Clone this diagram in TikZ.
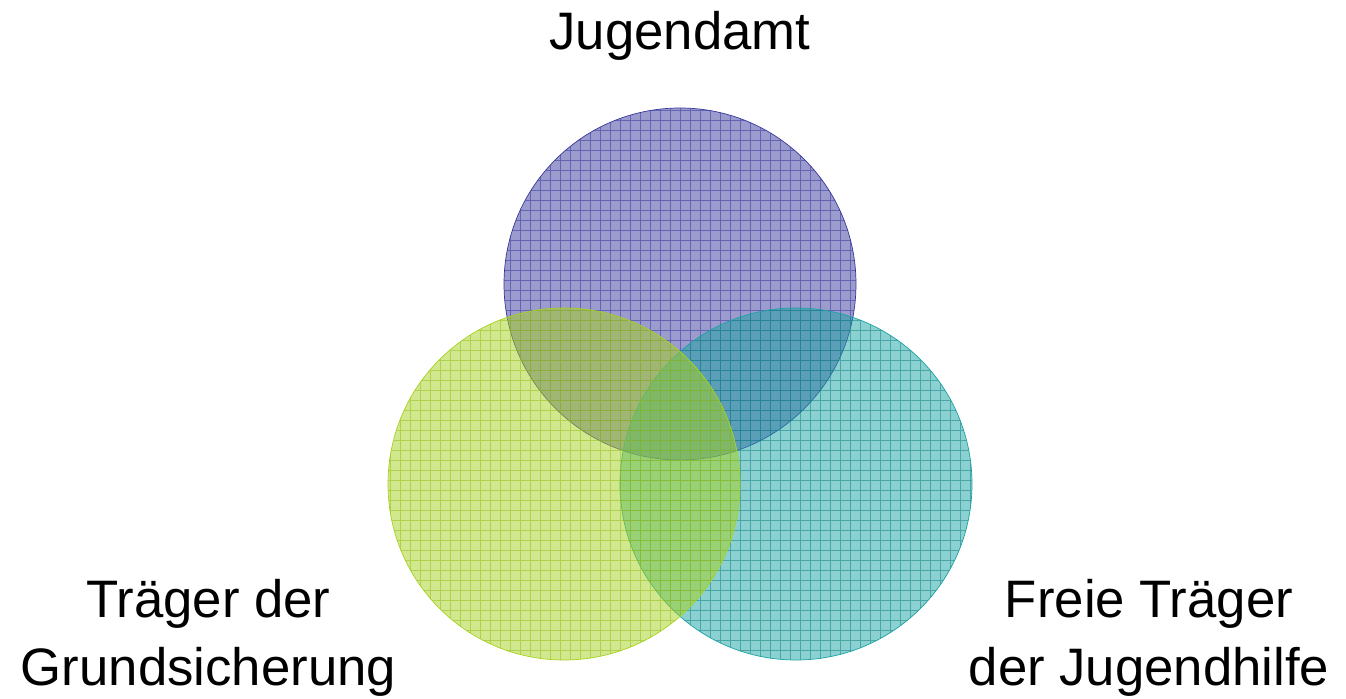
\documentclass[tikz,border=0pt]{standalone}
\usepackage{fontspec}
\setmainfont{Liberation Sans}
\usetikzlibrary{positioning}

\definecolor{amtblue}{HTML}{38389C}
\definecolor{freiteal}{HTML}{1AA3A3}
\definecolor{grundgreen}{HTML}{A6D21E}

\tikzset{
  label/.style={align=center, font=\fontsize{30}{38.5}\selectfont},
  disk/.style={fill opacity=0.5, draw opacity=1, line width=0.5pt},
  gridline/.style={line width=0.5pt, opacity=0.55}
}

\begin{document}
\begin{tikzpicture}[]
\useasboundingbox (0, 0) rectangle (26.92, -13.98);

% Jugendamt
\fill[amtblue, disk] (13.6, -5.68) circle (3.52);
\begin{scope}
\clip (13.6, -5.68) circle (3.52);
\draw[amtblue, gridline, step=0.2] (10, -10) grid (17.2, -2);
\end{scope}
\draw[amtblue] (13.6, -5.68) circle (3.52);

% Freie Traeger
\fill[freiteal, disk] (15.92, -9.68) circle (3.52);
\begin{scope}
\clip (15.92, -9.68) circle (3.52);
\draw[freiteal!80!black, gridline, step=0.2] (12, -14) grid (19.6, -6);
\end{scope}
\draw[freiteal] (15.92, -9.68) circle (3.52);

% Grundsicherung
\fill[grundgreen, disk] (11.28, -9.68) circle (3.52);
\begin{scope}
\clip (11.28, -9.68) circle (3.52);
\draw[grundgreen!90!black, gridline, step=0.2] (7.6, -14) grid (15, -6);
\end{scope}
\draw[grundgreen] (11.28, -9.68) circle (3.52);

\node[label] (amt) at (13.6, -0.72) {Jugendamt};
\node[label] (grund) at (4.17, -12.76) {Träger der\\Grundsicherung};
\node[label] (frei) at (22.98, -12.76) {Freie Träger\\der Jugendhilfe};
\end{tikzpicture}
\end{document}
